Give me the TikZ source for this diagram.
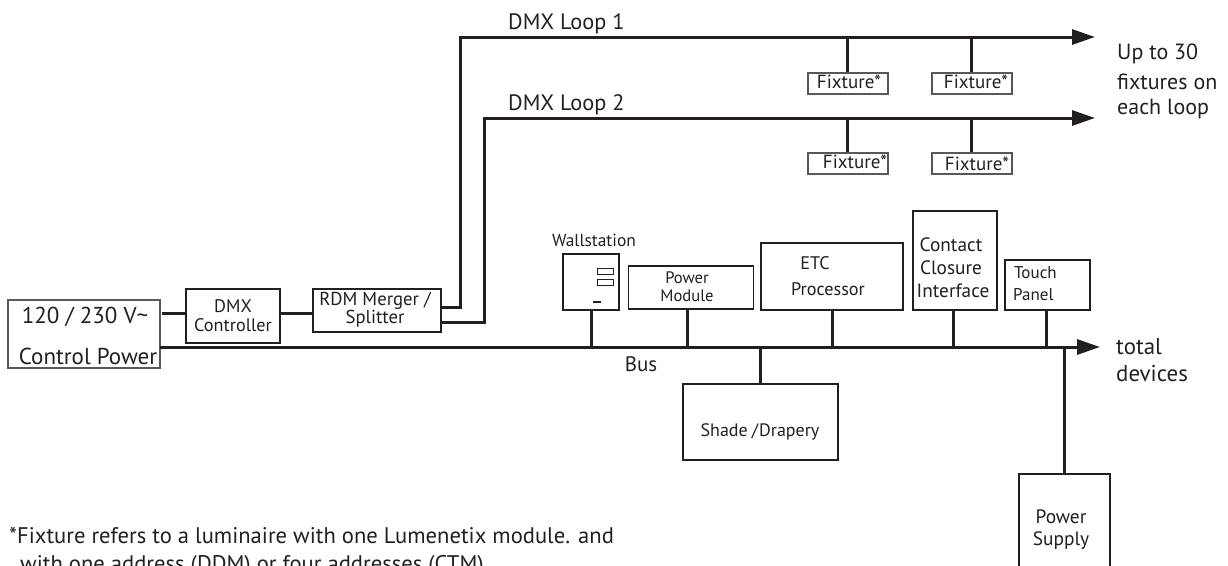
\documentclass[tikz,border=0pt]{standalone}
\usepackage{fontspec}
\setmainfont{PT Sans}
\usetikzlibrary{arrows.meta}
\definecolor{ink}{HTML}{231F20}
\newcommand{\fsz}[1]{\fontsize{#1}{#1}\selectfont}
\tikzset{
  box/.style={draw=ink,line width=1.5pt,inner sep=0pt,fill=white},
  thinbox/.style={draw=ink!75,line width=1.3pt,inner sep=0pt,fill=white},
  lbl/.style={text=ink,inner sep=0pt,align=center},
  trunk/.style={draw=ink,line width=3pt},
  stub/.style={draw=ink,line width=2.6pt},
  arrowline/.style={trunk,-{Triangle[length=23pt,width=15pt]}},
}
\begin{document}
\begin{tikzpicture}[x=1pt,y=-1pt]
\useasboundingbox (0,0) rectangle (1228,565);
\clip (0,0) rectangle (1228,565);
% boxes
\node[thinbox,minimum width=152pt,minimum height=68pt] (ctrl) at (84,334) {};
\node[box,minimum width=94pt,minimum height=54pt] (dmx) at (233,316) {};
\node[box,minimum width=128pt,minimum height=43pt] (rdm) at (377,310.5) {};
\node[box,minimum width=56pt,minimum height=56pt] (wall) at (591,282) {};
\node[box,minimum width=125pt,minimum height=43pt] (pm) at (691,287.5) {};
\node[box,minimum width=142pt,minimum height=67pt] (etc) at (832,276.5) {};
\node[box,minimum width=84pt,minimum height=99pt] (cci) at (955,260.5) {};
\node[box,minimum width=85pt,minimum height=50pt] (touch) at (1047.5,285) {};
\node[box,minimum width=155pt,minimum height=76pt] (shade) at (760.5,422) {};
\node[box,minimum width=91pt,minimum height=110pt] (psu) at (1064.5,529) {};
\node[thinbox,minimum width=80pt,minimum height=21pt] (f1) at (848,83.5) {};
\node[thinbox,minimum width=80pt,minimum height=21pt] (f2) at (972,83.5) {};
\node[thinbox,minimum width=80pt,minimum height=21pt] (f3) at (848,163.5) {};
\node[thinbox,minimum width=80pt,minimum height=21pt] (f4) at (972,163.5) {};
% wallstation details
\node[draw=ink,line width=1pt,minimum width=16pt,minimum height=6pt,inner sep=0pt] (wb1) at (605,271) {};
\node[draw=ink,line width=1pt,minimum width=16pt,minimum height=6pt,inner sep=0pt] (wb2) at (605,282.5) {};
\node[fill=ink,minimum width=8pt,minimum height=2.5pt,inner sep=0pt] (wb3) at (597,302) {};
% free ends
\coordinate (busL) at (160,347);
\coordinate (busR) at (1100,347);
\coordinate (l1R) at (1095,37);
\coordinate (l2R) at (1095,118);
\coordinate (c1) at (460,37);
\coordinate (c2) at (484,118);
\coordinate (t1) at (441,307);
\coordinate (t2) at (441,322);
\coordinate (mid1) at (162,313.5);
% connectors
\draw[arrowline] (busL) -- (busR);
\draw[arrowline,line join=miter] (t1) -- (t1 -| c1) -- (c1) -- (l1R);
\draw[arrowline,line join=miter] (t2) -- (t2 -| c2) -- (c2) -- (l2R);
\draw[stub] (mid1) -- (mid1 -| dmx.west);
\draw[stub] (mid1 -| dmx.east) -- (mid1 -| rdm.west);
\foreach \nm/\xx in {wall/591.5,pm/687.5,etc/832.5,cci/953.5,touch/1046.5}{
  \draw[stub] (\xx,0 |- \nm.south) -- (\xx,347);
}
\draw[stub] (shade.north) -- (shade.north |- busL);
\draw[stub] (psu.north) -- (psu.north |- busL);
\foreach \nm/\xx/\yy in {f1/847.5/37,f2/971.5/37,f3/847.5/118,f4/971.5/118}{
  \draw[stub] (\xx,0 |- \nm.north) -- (\xx,\yy);
}
% labels
\node[lbl,font=\fsz{23}] (tv) at (85,317) {120 / 230 V\char"007E};
\node[lbl,font=\fsz{23}] (tc) at (88,356) {Control Power};
\node[lbl,font=\fsz{18.2}] (td1) at (233,306) {DMX};
\node[lbl,font=\fsz{18.2}] (td2) at (233,325) {Controller};
\node[lbl,font=\fsz{18.7}] (tr1) at (375,301) {RDM Merger /};
\node[lbl,font=\fsz{18.7}] (tr2) at (375,319) {Splitter};
\node[lbl,font=\fsz{17.4}] (tw) at (594,240) {Wallstation};
\node[lbl,font=\fsz{16.6}] (tp1) at (687,278) {Power};
\node[lbl,font=\fsz{16.6}] (tp2) at (687,296) {Module};
\node[lbl,font=\fsz{18.2}] (te1) at (815,263) {ETC};
\node[lbl,font=\fsz{18.2}] (te2) at (828,289) {Processor};
\node[lbl,font=\fsz{19.3}] (tc1) at (951,245) {Contact};
\node[lbl,font=\fsz{19.3}] (tc2) at (951,268) {Closure};
\node[lbl,font=\fsz{19.3}] (tc3) at (953,291) {Interface};
\node[lbl,font=\fsz{17},anchor=west] (tt1) at (1014,273) {Touch};
\node[lbl,font=\fsz{17},anchor=west] (tt2) at (1013,295) {Panel};
\node[lbl,font=\fsz{18}] (ts) at (760,432) {Shade\kern4pt/\kern1pt Drapery};
\node[lbl,font=\fsz{19.4}] (tps1) at (1061,517) {Power};
\node[lbl,font=\fsz{19.4}] (tps2) at (1061,541) {Supply};
\node[lbl,font=\fsz{21}] (tb) at (641,364) {Bus};
\node[lbl,font=\fsz{22.3},anchor=west] (tl1) at (508,24) {DMX Loop 1};
\node[lbl,font=\fsz{22.3},anchor=west] (tl2) at (508,105) {DMX Loop 2};
\node[lbl,font=\fsz{19}] (tf1) at (849,82) {Fixture*};
\node[lbl,font=\fsz{19}] (tf2) at (976,82) {Fixture*};
\node[lbl,font=\fsz{19}] (tf3) at (855,162) {Fixture*};
\node[lbl,font=\fsz{19}] (tf4) at (977,164) {Fixture*};
\node[lbl,font=\fsz{22},anchor=west] (tu1) at (1117,54) {Up to 30};
\node[lbl,font=\fsz{22},anchor=west] (tu2) at (1117,82) {fixtures on};
\node[lbl,font=\fsz{22},anchor=west] (tu3) at (1117,109) {each loop};
\node[lbl,font=\fsz{22.9},anchor=west] (tt) at (1116,347) {total};
\node[lbl,font=\fsz{22.9},anchor=west] (td) at (1116,374) {devices};
\node[lbl,font=\fsz{22.6},anchor=base west] (fn1) at (9,543) {*Fixture refers to a luminaire with one Lumenetix module. and};
\node[lbl,font=\fsz{22.6},anchor=base west] (fn2) at (20,571) {with one address (DDM) or four addresses (CTM)};
\end{tikzpicture}
\end{document}
